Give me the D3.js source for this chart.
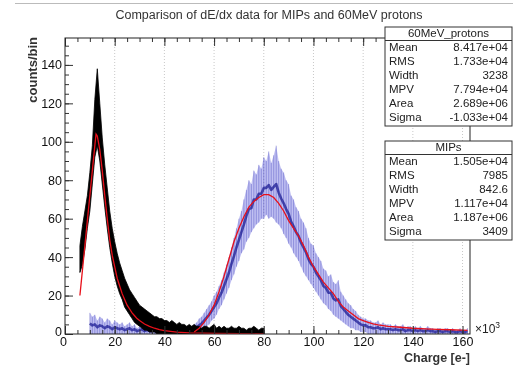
<!DOCTYPE html>
<html><head><meta charset="utf-8">
<script src="https://cdn.jsdelivr.net/npm/d3@7/dist/d3.min.js"></script>
<style>
html,body{margin:0;padding:0;background:#fff;}
svg{display:block;filter:blur(0.45px);}
text{font-family:"Liberation Sans",Arial,sans-serif;}
</style></head>
<body><svg id="c" width="520" height="370"></svg>
<script>
const titleText = "Comparison of dE/dx data for MIPs and 60MeV protons";
const xTicks = [0,20,40,60,80,100,120,140,160];
const yTicks = [0,20,40,60,80,100,120,140];

// MIPs histogram envelope, bins x = 6..80 (units of 10^3 e-)
const mipsStart = 6;
const mipsLow = [
 32,36,44,55,64,78,92,98,90,78,
 66,55,45,37,30,25,21,18,14,12,
 10,8,6,5,4,3,2,2,1,1,
 1,0,0,0,0,0,0,0,0,0,
 0,0,0,0,0,0,0,0,0,0,
 0,0,0,0,0,0,0,0,0,0,
 0,0,0,0,0,0,0,0,0,0,
 0,0,0,0,0];
const mipsHigh = [
 46,56,64,72,84,98,122,138,120,102,
 88,76,64,55,48,42,37,33,29,26,
 23,21,19,17,15,14,13,12,11,10,
 9,9,8,8,7,7,6,7,6,5,
 6,5,5,4,5,4,5,4,4,3,
 4,4,3,4,5,3,4,3,4,3,
 3,4,3,3,4,3,3,2,3,3,
 4,3,2,3,3];

// 60 MeV protons histogram envelope, bins x = 10..162
const protonsStart = 10;
const protonsLow = [
 0,0,0,0,0,0,0,0,0,0,   // 10-19
 0,0,0,0,0,0,0,0,0,0,   // 20-29
 0,0,0,0,0,0,0,0,0,0,   // 30-39
 0,0,0,0,0,0,0,0,0,0,   // 40-49
 0,0,0,1,1,2,3,4,5,7,   // 50-59
 8,10,13,15,18,21,24,28,31,35,   // 60-69
 38,42,44,48,50,53,55,57,58,60,  // 70-79
 60,62,60,61,60,58,57,55,52,50,  // 80-89
 47,45,42,40,38,35,32,30,28,26,  // 90-99
 24,22,20,18,16,15,13,12,10,9,   // 100-109
 8,7,6,5,4,3,3,2,2,1,            // 110-119
 1,1,0,0,0,0,0,0,0,0,            // 120-129
 0,0,0,0,0,0,0,0,0,0,            // 130-139
 0,0,0,0,0,0,0,0,0,0,            // 140-149
 0,0,0,0,0,0,0,0,0,0,            // 150-159
 0,0,0];                         // 160-162
const protonsHigh = [
 11,9,10,7,9,8,6,8,7,5,     // 10-19
 7,6,5,6,4,5,6,4,5,3,       // 20-29
 4,5,3,4,3,3,4,2,3,3,       // 30-39
 2,3,2,3,2,3,2,3,4,3,       // 40-49
 4,4,5,6,8,9,11,13,15,17,   // 50-59
 20,22,25,28,32,36,40,45,50,55,  // 60-69
 60,64,70,75,80,78,85,83,88,86,  // 70-79
 92,90,95,89,93,98,90,86,84,80,  // 80-89
 78,72,70,66,64,60,58,55,50,47,  // 90-99
 46,42,40,38,34,33,30,31,27,26,  // 100-109
 28,22,20,18,16,15,13,12,10,9,   // 110-119
 8,8,7,7,6,6,7,5,6,5,            // 120-129
 5,5,4,5,4,4,5,3,4,4,            // 130-139
 3,4,3,4,3,3,4,3,3,2,            // 140-149
 3,3,2,3,3,2,3,2,2,3,            // 150-159
 2,2,3];                         // 160-162

// fitted curves (red)
const mipsFitX = [6,7,8,9,10,11,12,12.5,13,14,15,16,17,18,19,20,21,22,23,24,25,26,27,28,29,30,32,34,36,38,40,45,50,60,70,80];
const mipsFitY = [20,33,46,59,72,85,98,104,103,96,85,72,60,49,41,35,29,25,21,18,15,13,11,9.5,8,7,5.2,4,3,2.3,1.8,1,0.6,0.3,0.15,0.1];
const protonsFitX = [52,54,56,58,60,62,64,66,68,70,72,74,76,78,80,82,84,86,88,90,92,94,96,98,100,102,104,106,108,110,112,114,116,118,120,122,124,126,128,130,135,140,145,150,155,160,162];
const protonsFitY = [1,3,6,10,15,22,30,39,48,55,61,66,69,71,72.5,72.5,71,68,64,59,55,51,46,40,35,31,27,24,21,17,14,12,10,8,7,6,5.3,4.8,4.4,4,3.5,3,2.7,2.4,2.2,2,1.9];

// stat boxes
const statLabels = ["Mean","RMS","Width","MPV","Area","Sigma"];
const protonStats = ["8.417e+04","1.733e+04","3238","7.794e+04","2.689e+06","-1.033e+04"];
const mipStats = ["1.505e+04","7985","842.6","1.117e+04","1.187e+06","3409"];

const svg = d3.select("#c");
const L=65, R=470, T=38, B=334;
const x = d3.scaleLinear().domain([0,163]).range([L,R]);
const y = d3.scaleLinear().domain([0,154]).range([B,T]);

svg.append("rect").attr("width",520).attr("height",370).attr("fill","#fff");
svg.append("line").attr("x1",15).attr("x2",513).attr("y1",3.5).attr("y2",3.5).attr("stroke","#bbb").attr("stroke-width",1);

svg.append("text").attr("x",269).attr("y",19).attr("text-anchor","middle")
  .attr("font-size",12.5).attr("fill","#333").text(titleText);

// grid
svg.append("g").selectAll("line").data(xTicks.slice(1)).join("line")
  .attr("x1",d=>x(d)).attr("x2",d=>x(d)).attr("y1",T).attr("y2",B)
  .attr("stroke","#c8c8c8").attr("stroke-dasharray","1,2").attr("stroke-width",1);

svg.append("clipPath").attr("id","pc").append("rect")
  .attr("x",L).attr("y",T).attr("width",R-L).attr("height",B-T);
const plot = svg.append("g").attr("clip-path","url(#pc)");

// protons histogram (blue)
const pData = protonsLow.map((lo,i)=>({x:protonsStart+i, lo:lo, hi:protonsHigh[i]}));
plot.append("path").datum(pData)
  .attr("d", d3.area().x(d=>x(d.x)).y0(d=>y(d.lo)).y1(d=>y(d.hi)))
  .attr("fill","#3a3ad8").attr("fill-opacity",0.32);
plot.append("g").selectAll("line").data(pData).join("line")
  .attr("x1",d=>x(d.x)).attr("x2",d=>x(d.x)).attr("y1",d=>y(d.lo)).attr("y2",d=>y(d.hi))
  .attr("stroke","#1a1aa8").attr("stroke-opacity",0.3).attr("stroke-width",1);
plot.append("path").datum(pData)
  .attr("d", d3.line().x(d=>x(d.x)).y(d=>y((d.lo+d.hi)/2)))
  .attr("fill","none").attr("stroke","#12128f").attr("stroke-width",2.6).attr("stroke-opacity",0.7)
  .attr("stroke-linejoin","round");

// MIPs histogram (black)
const mData = mipsLow.map((lo,i)=>({x:mipsStart+i, lo:lo, hi:mipsHigh[i]}));
plot.append("path").datum(mData)
  .attr("d", d3.area().x(d=>x(d.x)).y0(d=>y(d.lo)).y1(d=>y(d.hi)))
  .attr("fill","#000").attr("stroke","#000").attr("stroke-width",0.8);

// fits
const fitLine = d3.line().x(d=>x(d[0])).y(d=>y(d[1]));
plot.append("path").datum(protonsFitX.map((v,i)=>[v,protonsFitY[i]]))
  .attr("d",fitLine).attr("fill","none").attr("stroke","#e8101a").attr("stroke-width",1.3);
plot.append("path").datum(mipsFitX.map((v,i)=>[v,mipsFitY[i]]))
  .attr("d",fitLine).attr("fill","none").attr("stroke","#e8101a").attr("stroke-width",1.3);

// axes
const fmt = d3.format("d");
const gx = svg.append("g").attr("transform",`translate(0,${B})`)
  .call(d3.axisBottom(x).tickValues(xTicks).tickSize(-8).tickPadding(3).tickFormat(fmt));
const gxm = svg.append("g").attr("transform",`translate(0,${B})`)
  .call(d3.axisBottom(x).tickValues(d3.range(0,164,5)).tickSize(-4).tickFormat(""));
const gxt = svg.append("g").attr("transform",`translate(0,${T})`)
  .call(d3.axisTop(x).tickValues(xTicks).tickSize(-8).tickFormat(""));
const gxtm = svg.append("g").attr("transform",`translate(0,${T})`)
  .call(d3.axisTop(x).tickValues(d3.range(0,164,5)).tickSize(-4).tickFormat(""));
const gy = svg.append("g").attr("transform",`translate(${L},0)`)
  .call(d3.axisLeft(y).tickValues(yTicks).tickSize(-8).tickPadding(3).tickFormat(fmt));
const gym = svg.append("g").attr("transform",`translate(${L},0)`)
  .call(d3.axisLeft(y).tickValues(d3.range(0,155,5)).tickSize(-4).tickFormat(""));
[gx,gxm,gxt,gxtm,gy,gym].forEach(g=>{
  g.select(".domain").remove();
  g.selectAll("line").attr("stroke","#333");
  g.selectAll("text").attr("font-size",12.5).attr("fill","#111")
    .attr("font-family","'Liberation Sans',Arial,sans-serif");
});
gx.selectAll("text").filter(d=>d===0).attr("dx","-2");
gy.selectAll("text").filter(d=>d===0).attr("dy","0.1em");

svg.append("rect").attr("x",L).attr("y",T).attr("width",R-L).attr("height",B-T)
  .attr("fill","none").attr("stroke","#222").attr("stroke-width",1);

// exponent
const ex = svg.append("text").attr("x",475).attr("y",333).attr("font-size",12).attr("fill","#222");
ex.append("tspan").text("\u00d710");
ex.append("tspan").attr("dy",-5).attr("font-size",8.5).text("3");

svg.append("text").attr("x",470).attr("y",362).attr("text-anchor","end")
  .attr("font-size",12.5).attr("font-weight","bold").attr("fill","#333").text("Charge [e-]");
svg.append("text").attr("transform","translate(37,37) rotate(-90)").attr("text-anchor","end")
  .attr("font-size",13).attr("font-weight","bold").attr("fill","#333").text("counts/bin");

// stat boxes
function statBox(top, title, values){
  const g = svg.append("g");
  const h = 14, x0 = 385, x1 = 512, hdr = 13.5;
  const bottom = top + hdr + values.length*h + 1.5;
  g.append("rect").attr("x",x0).attr("y",top).attr("width",x1-x0).attr("height",bottom-top)
    .attr("fill","#fff").attr("stroke","#333").attr("stroke-width",1);
  g.append("line").attr("x1",x0).attr("x2",x1).attr("y1",top+hdr).attr("y2",top+hdr).attr("stroke","#333");
  g.append("text").attr("x",(x0+x1)/2).attr("y",top+10).attr("text-anchor","middle")
    .attr("font-size",11.5).attr("fill","#222").text(title);
  g.selectAll("text.l").data(statLabels).join("text").attr("class","l")
    .attr("x",x0+4).attr("y",(d,i)=>top+hdr+10+i*h).attr("font-size",11.5).attr("fill","#222").text(d=>d);
  g.selectAll("text.v").data(values).join("text").attr("class","v")
    .attr("x",x1-4).attr("y",(d,i)=>top+hdr+10+i*h).attr("text-anchor","end")
    .attr("font-size",11.5).attr("fill","#222").text(d=>d);
}
statBox(27, "60MeV_protons", protonStats);
statBox(141, "MIPs", mipStats);
</script></body></html>
